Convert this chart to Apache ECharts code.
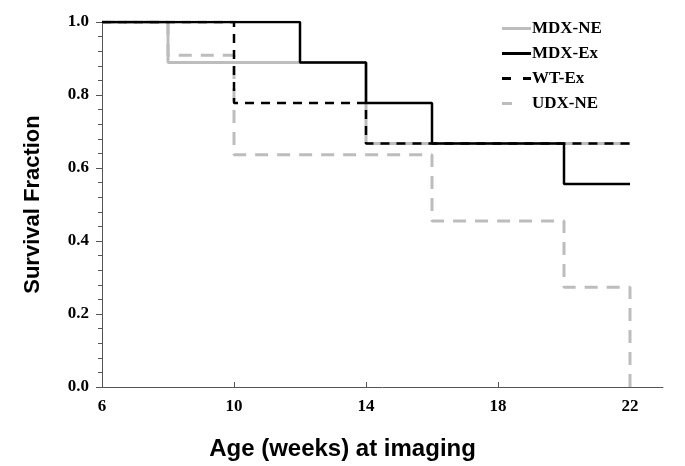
<!DOCTYPE html>
<html>
<head>
<meta charset="utf-8">
<script src="https://cdn.jsdelivr.net/npm/echarts@6/dist/echarts.min.js"></script>
<style>html,body{margin:0;padding:0;background:#fff}#c{width:685px;height:466px}</style>
</head>
<body>
<div id="c"></div>
<script>
// Survival data (weeks, survival fraction)
const mdxNeWeeks = [6, 8, 14, 22];
const mdxNeSurv  = [1.0, 0.889, 0.667, 0.667];
const mdxExWeeks = [6, 12, 14, 16, 20, 22];
const mdxExSurv  = [1.0, 0.889, 0.778, 0.667, 0.556, 0.556];
const wtExWeeks  = [6, 10, 14, 22];
const wtExSurv   = [1.0, 0.778, 0.667, 0.667];
const udxNeWeeks = [6, 8, 10, 16, 20, 22];
const udxNeSurv  = [1.0, 0.909, 0.636, 0.455, 0.273, 0.0];
const xTickLabels = [6, 10, 14, 18, 22];
const seriesNames = ['MDX-NE', 'MDX-Ex', 'WT-Ex', 'UDX-NE'];

const pairs = (xs, ys) => xs.map((x, i) => [x, ys[i]]);
const gray = '#bdbdbd';
const serif = '"Liberation Serif", "Times New Roman", serif';
const sans = '"Liberation Sans", Arial, sans-serif';

const iconSolid = 'path://M0,0H29V3H0Z';
const iconBlackDash = 'path://M0,0H9V3H0Z M21,0H29V3H21Z';
const iconGrayDash = 'path://M0,0H10V3H0Z M29,0L29,3';

const chart = echarts.init(document.getElementById('c'), null, {renderer: 'canvas'});
chart.setOption({
  animation: false,
  grid: {left: 102, right: 22, top: 22, bottom: 72},
  legend: {
    data: [
      {name: seriesNames[0], icon: iconSolid},
      {name: seriesNames[1], icon: iconSolid},
      {name: seriesNames[2], icon: iconBlackDash},
      {name: seriesNames[3], icon: iconGrayDash}
    ],
    orient: 'vertical',
    left: 497, top: 15,
    itemWidth: 29, itemHeight: 3, itemGap: 8, symbolKeepAspect: false,
    itemStyle: {borderWidth: 0},
    textStyle: {fontFamily: serif, fontWeight: 'bold', fontSize: 17, color: '#000', padding: [0,0,0,-4]}
  },
  xAxis: {
    type: 'value', min: 6, max: 23,
    name: 'Age (weeks) at imaging', nameLocation: 'middle', nameGap: 50,
    nameTextStyle: {fontFamily: sans, fontWeight: 'bold', fontSize: 24, color: '#000', padding: [0, 80, 0, 0]},
    axisLine: {lineStyle: {color: '#555', width: 1}},
    axisTick: {inside: true, length: 5, lineStyle: {color: '#555'}, customValues: xTickLabels},
    axisLabel: {fontFamily: serif, fontWeight: 'bold', fontSize: 17, color: '#000', margin: 11, customValues: xTickLabels},
    splitLine: {show: false}
  },
  yAxis: {
    type: 'value', min: 0, max: 1, interval: 0.2,
    name: 'Survival Fraction', nameLocation: 'middle', nameGap: 58,
    nameTextStyle: {fontFamily: sans, fontWeight: 'bold', fontSize: 22, color: '#000'},
    axisLine: {show: true, lineStyle: {color: '#555', width: 1}},
    axisTick: {show: true, length: 6, lineStyle: {color: '#555'}},
    minorTick: {show: true, splitNumber: 5, length: 4, lineStyle: {color: '#555'}},
    axisLabel: {fontFamily: serif, fontWeight: 'bold', fontSize: 17, color: '#000', margin: 13,
      formatter: v => v.toFixed(1)},
    splitLine: {show: false}
  },
  series: [
    {name: 'MDX-NE', type: 'line', step: 'end', symbol: 'none', z: 1,
     data: pairs(mdxNeWeeks, mdxNeSurv), lineStyle: {color: gray, width: 3}, itemStyle: {color: gray}},
    {name: 'UDX-NE', type: 'line', step: 'end', symbol: 'none', z: 2,
     data: pairs(udxNeWeeks, udxNeSurv), lineStyle: {color: gray, width: 3, type: [13, 9]}, itemStyle: {color: gray}},
    {name: 'WT-Ex', type: 'line', step: 'end', symbol: 'none', z: 3,
     data: pairs(wtExWeeks, wtExSurv), lineStyle: {color: '#000', width: 2.5, type: [9, 7]}, itemStyle: {color: '#000'}},
    {name: 'MDX-Ex', type: 'line', step: 'end', symbol: 'none', z: 4,
     data: pairs(mdxExWeeks, mdxExSurv), lineStyle: {color: '#000', width: 2.5}, itemStyle: {color: '#000'}}
  ]
});
</script>
</body>
</html>
